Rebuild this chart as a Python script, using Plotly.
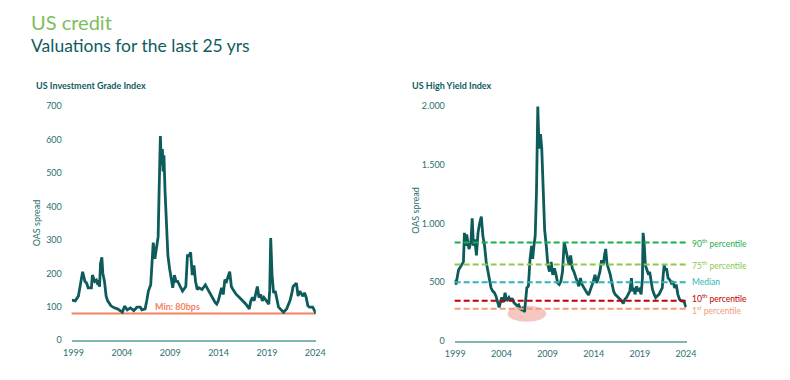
import plotly.graph_objects as go

# ---------------- data ----------------
ig_years = [1998.83, 1999.17, 1999.50, 1999.67, 1999.94, 2000.18, 2000.35, 2000.51, 2000.85, 2000.95,
            2001.19, 2001.36, 2001.52, 2001.59, 2001.69, 2001.79, 2001.93, 2002.03, 2002.20, 2002.37,
            2002.53, 2002.87, 2003.21, 2003.54, 2003.88, 2004.05, 2004.28, 2004.55, 2004.89, 2005.23,
            2005.56, 2005.90, 2006.07, 2006.40, 2006.57, 2006.74, 2006.98, 2007.08, 2007.24, 2007.41,
            2007.58, 2007.75, 2007.85, 2007.98, 2008.08, 2008.19, 2008.25, 2008.35, 2008.46, 2008.59,
            2008.76, 2008.93, 2009.16, 2009.26, 2009.43, 2009.60, 2009.77, 2010.00, 2010.27, 2010.61,
            2010.78, 2010.95, 2011.11, 2011.28, 2011.45, 2011.62, 2011.79, 2011.96, 2012.29, 2012.63,
            2012.97, 2013.30, 2013.64, 2013.81, 2013.97, 2014.31, 2014.48, 2014.65, 2014.82, 2015.15,
            2015.32, 2015.49, 2015.83, 2016.16, 2016.50, 2016.83, 2017.17, 2017.34, 2017.51, 2017.68,
            2018.01, 2018.18, 2018.35, 2018.52, 2018.69, 2019.02, 2019.19, 2019.29, 2019.39, 2019.53,
            2019.69, 2019.86, 2020.03, 2020.20, 2020.54, 2020.71, 2021.04, 2021.38, 2021.55, 2021.71,
            2021.88, 2022.05, 2022.22, 2022.39, 2022.72, 2022.89, 2023.06, 2023.23, 2023.40, 2023.73,
            2023.90, 2024.07]
ig_values = [120, 118, 132, 157, 205, 176, 171, 157, 157, 195,
             176, 180, 166, 180, 160, 230, 248, 200, 176, 132,
             118, 103, 97, 94, 87, 84, 102, 91, 97, 89,
             99, 99, 91, 94, 118, 147, 166, 205, 292, 244,
             273, 310, 447, 611, 524, 572, 505, 553, 447, 350,
             253, 215, 176, 157, 195, 176, 176, 161, 147, 161,
             253, 253, 263, 195, 224, 176, 152, 157, 152, 166,
             147, 128, 113, 108, 118, 157, 137, 181, 176, 205,
             161, 152, 137, 128, 118, 108, 94, 118, 128, 118,
             161, 128, 137, 118, 128, 113, 108, 150, 306, 195,
             142, 147, 118, 99, 89, 84, 94, 118, 137, 161,
             166, 171, 132, 147, 132, 142, 128, 103, 99, 99,
             90, 80]

hy_years = [1998.93, 1999.07, 1999.35, 1999.63, 1999.88, 1999.99, 2000.13, 2000.23, 2000.48, 2000.69,
            2000.83, 2000.97, 2001.11, 2001.29, 2001.46, 2001.64, 2001.82, 2001.99, 2002.17, 2002.35,
            2002.52, 2002.70, 2002.87, 2003.05, 2003.23, 2003.40, 2003.58, 2003.75, 2003.93, 2004.04,
            2004.21, 2004.39, 2004.56, 2004.81, 2004.99, 2005.16, 2005.34, 2005.51, 2005.69, 2005.87,
            2006.04, 2006.22, 2006.39, 2006.50, 2006.64, 2006.75, 2006.92, 2007.10, 2007.27, 2007.38,
            2007.52, 2007.66, 2007.80, 2007.94, 2008.08, 2008.23, 2008.37, 2008.51, 2008.68, 2008.86,
            2009.03, 2009.21, 2009.39, 2009.56, 2009.74, 2009.92, 2010.09, 2010.27, 2010.44, 2010.62,
            2010.80, 2010.97, 2011.15, 2011.32, 2011.50, 2011.68, 2011.85, 2012.03, 2012.20, 2012.38,
            2012.56, 2012.73, 2012.91, 2013.08, 2013.26, 2013.44, 2013.61, 2013.79, 2013.96, 2014.14,
            2014.32, 2014.49, 2014.67, 2014.85, 2015.02, 2015.20, 2015.30, 2015.44, 2015.62, 2015.80,
            2015.97, 2016.15, 2016.32, 2016.50, 2016.68, 2016.85, 2017.03, 2017.20, 2017.38, 2017.56,
            2017.73, 2017.91, 2018.09, 2018.19, 2018.37, 2018.47, 2018.65, 2018.79, 2018.96, 2019.14,
            2019.28, 2019.35, 2019.46, 2019.60, 2019.77, 2019.95, 2020.06, 2020.20, 2020.37, 2020.55,
            2020.72, 2020.90, 2021.08, 2021.25, 2021.43, 2021.53, 2021.64, 2021.75, 2021.89, 2022.06,
            2022.24, 2022.41, 2022.59, 2022.77, 2022.94, 2023.12, 2023.29, 2023.47, 2023.65, 2023.82,
            2024.00]
hy_values = [522, 481, 604, 646, 673, 920, 810, 906, 783, 838,
             1044, 810, 865, 728, 920, 1003, 1058, 893, 810, 673,
             591, 508, 453, 426, 412, 385, 343, 288, 343, 371,
             330, 412, 343, 371, 343, 365, 330, 316, 302, 310,
             275, 266, 288, 247, 357, 453, 467, 700, 810, 700,
             810, 893, 1277, 1992, 1634, 1758, 1634, 1277, 948, 810,
             646, 591, 673, 563, 618, 563, 494, 481, 508, 591,
             840, 783, 714, 646, 728, 618, 591, 536, 508, 467,
             536, 481, 453, 440, 412, 393, 426, 467, 508, 563,
             494, 536, 591, 687, 646, 742, 783, 659, 618, 563,
             494, 426, 398, 385, 371, 357, 343, 321, 357, 371,
             398, 426, 536, 426, 453, 398, 467, 426, 440, 398,
             536, 920, 838, 646, 604, 563, 591, 508, 440, 398,
             371, 385, 398, 426, 453, 563, 646, 604, 618, 536,
             522, 494, 508, 453, 481, 398, 357, 343, 343, 330,
             288]

x_tick_years = [1999, 2004, 2009, 2014, 2019, 2024]
ig_y_ticks = [0, 100, 200, 300, 400, 500, 600, 700]
hy_y_ticks = [0, 500, 1000, 1500, 2000]
hy_y_ticktext = ["0", "500", "1.000", "1.500", "2.000"]

ig_min = 80
ig_min_label = "Min: 80bps"

pct_values = [838, 651, 500, 343, 275]
pct_labels = ["90<sup>th</sup> percentile", "75<sup>th</sup> percentile", "Median",
              "10<sup>th</sup> percentile", "1<sup>st</sup> percentile"]
pct_colors = ["#1AAE4F", "#8DC850", "#2DB7B3", "#C00000", "#F29A7C"]
pct_label_shift = [0, 0, 0, 3, -1]  # pixel nudge of labels

# highlighted low-spread zone (years, spread)
zone_x = [2004.65, 2008.85]
zone_y = [165, 302]

# ---------------- style ----------------
W, H = 790, 380
OFF = 8  # page body margin in the rendered page
LINE = "#0D5B5B"
TICK = "#2B6F72"
AXIS = "#7FB5B5"
FONT = "Lato"


def px(x):
    return (x - OFF) / W


def py(y):
    return 1 - (y - OFF) / H


assert len(ig_years) == len(ig_values)
assert len(hy_years) == len(hy_values)

fig = go.Figure()
fig.add_trace(go.Scatter(x=ig_years, y=ig_values, xaxis="x", yaxis="y", mode="lines",
                         line=dict(color=LINE, width=2.8), showlegend=False, hoverinfo="skip"))
fig.add_trace(go.Scatter(x=hy_years, y=hy_values, xaxis="x2", yaxis="y2", mode="lines",
                         line=dict(color=LINE, width=2.8), showlegend=False, hoverinfo="skip"))

shapes = []
shapes.append(dict(type="line", xref="x domain", yref="y", x0=0, x1=1, y0=ig_min, y1=ig_min,
                   line=dict(color="#F2845F", width=2), layer="below"))
shapes.append(dict(type="circle", xref="x2", yref="y2", x0=zone_x[0], x1=zone_x[1],
                   y0=zone_y[0], y1=zone_y[1], fillcolor="rgba(240,160,150,0.6)",
                   line=dict(width=0), layer="below"))
for v, c in zip(pct_values, pct_colors):
    shapes.append(dict(type="line", xref="x2 domain", yref="y2", x0=0, x1=1, y0=v, y1=v,
                       line=dict(color=c, width=2, dash="6px,3px")))

annotations = []
annotations.append(dict(text="US credit", x=px(19), y=py(16), xref="paper", yref="paper",
                        xanchor="left", yanchor="middle", showarrow=False,
                        font=dict(size=20, color="#7DBE5C", family=FONT)))
annotations.append(dict(text="Valuations for the last 25 yrs", x=px(19), y=py(40), xref="paper",
                        yref="paper", xanchor="left", yanchor="middle", showarrow=False,
                        font=dict(size=17.5, color="#0F5C5E", family=FONT)))
annotations.append(dict(text="<b>US Investment Grade Index</b>", x=px(24), y=py(82), xref="paper",
                        yref="paper", xanchor="left", yanchor="middle", showarrow=False,
                        font=dict(size=9, color="#0F5C5E", family=FONT)))
annotations.append(dict(text="<b>US High Yield Index</b>", x=px(410), y=py(82), xref="paper",
                        yref="paper", xanchor="left", yanchor="middle", showarrow=False,
                        font=dict(size=9, color="#0F5C5E", family=FONT)))
annotations.append(dict(text="OAS spread", x=px(27), y=py(223), xref="paper", yref="paper",
                        xanchor="center", yanchor="middle", textangle=-90, showarrow=False,
                        font=dict(size=9, color=TICK, family=FONT)))
annotations.append(dict(text="OAS spread", x=px(415), y=py(210), xref="paper", yref="paper",
                        xanchor="center", yanchor="middle", textangle=-90, showarrow=False,
                        font=dict(size=9, color=TICK, family=FONT)))
annotations.append(dict(text="<b>" + ig_min_label + "</b>", x=2009.8, y=ig_min, xref="x", yref="y",
                        xanchor="center", yanchor="bottom", showarrow=False,
                        font=dict(size=9, color="#F2845F", family=FONT)))
for v, t, c, s in zip(pct_values, pct_labels, pct_colors, pct_label_shift):
    annotations.append(dict(text=t, x=px(697), y=v, xref="paper", yref="y2", xanchor="left",
                            yanchor="middle", yshift=s, showarrow=False,
                            font=dict(size=8.5, color=c, family=FONT)))

axis_common = dict(showgrid=False, zeroline=False, tickfont=dict(size=9, color=TICK, family=FONT))

fig.update_layout(
    width=W, height=H, margin=dict(l=0, r=0, t=0, b=0),
    paper_bgcolor="white", plot_bgcolor="white",
    font=dict(family=FONT, color=TICK),
    showlegend=False,
    shapes=shapes, annotations=annotations,
    xaxis=dict(domain=[px(63), px(313.5)], range=[1998.8, 2024.05], tickvals=x_tick_years,
               showline=True, linecolor=AXIS, linewidth=2, ticks="outside", ticklen=3,
               tickcolor="rgba(0,0,0,0)", anchor="y", **axis_common),
    yaxis=dict(domain=[py(344), py(103)], range=[0, 700], tickvals=ig_y_ticks, showline=False,
               ticks="outside", ticklen=7, tickcolor="rgba(0,0,0,0)", anchor="x", **axis_common),
    xaxis2=dict(domain=[px(456), px(694)], range=[1998.93, 2024.07], tickvals=x_tick_years,
                showline=True, linecolor=AXIS, linewidth=2, ticks="outside", ticklen=3,
                tickcolor="rgba(0,0,0,0)", anchor="y2", **axis_common),
    yaxis2=dict(domain=[py(345), py(102.3)], range=[0, 2000], tickvals=hy_y_ticks,
                ticktext=hy_y_ticktext, showline=False, ticks="outside", ticklen=7,
                tickcolor="rgba(0,0,0,0)", anchor="x2", **axis_common),
)

fig.write_html("out.html")
